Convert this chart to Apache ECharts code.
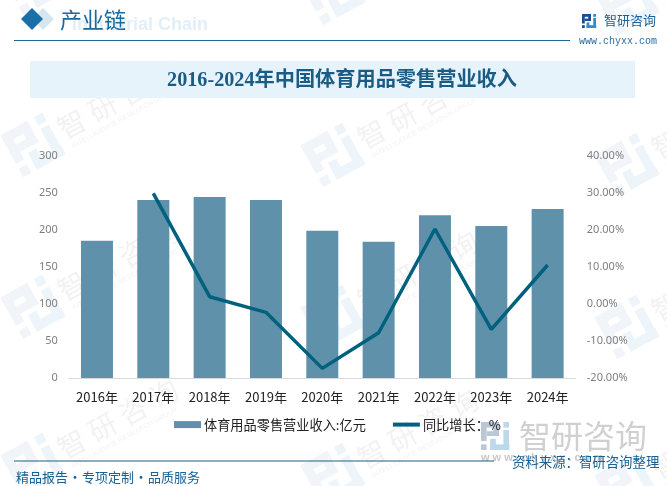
<!DOCTYPE html>
<html>
<head>
<meta charset="utf-8">
<title>2016-2024年中国体育用品零售营业收入</title>
<script src="https://cdn.jsdelivr.net/npm/echarts@6/dist/echarts.min.js"></script>
<style>
    html, body { margin: 0; padding: 0; background: #fff; }
    #myChart { width: 667px; height: 486px; }
</style>
</head>
<body>
<div id="myChart"></div>
<script>
const years = ["2016年", "2017年", "2018年", "2019年", "2020年", "2021年", "2022年", "2023年", "2024年"];
const revenue = [185.5, 240.5, 244.5, 240.5, 199, 184, 220, 205.5, 228.5];
const growth = [null, 29.9, 1.97, -2.25, -17.4, -7.76, 20.27, -6.85, 10.54];
const leftTicks = { min: 0, max: 300, interval: 50 };
const rightTicks = { min: -20, max: 40, interval: 10 };

const BLUE = "#1a6a9e";
const CJK = '"Noto Sans CJK SC"';

function label(text, x, y, size, fill, extra) {
    return {
        type: "text",
        x: x,
        y: y,
        silent: true,
        style: Object.assign({
            text: text,
            fill: fill,
            font: size + "px " + CJK,
            textAlign: "left",
            textVerticalAlign: "middle",
        }, extra || {}),
    };
}

function box(x, y, w, h, fill) {
    return { type: "rect", silent: true, shape: { x: x, y: y, width: w, height: h }, style: { fill: fill } };
}

// the company mark, drawn on a 14 unit square
function logoMark(x, y, s, dark, light) {
    const parts = [
        [0, 0, 9, 2.8, dark], [0, 0, 2.8, 9.5, dark], [6.2, 0, 2.8, 7, dark], [2.8, 4.6, 6.2, 2.4, dark], [0, 11.2, 2.8, 2.8, dark],
        [11.2, 0, 2.8, 2.8, light], [11.2, 4, 2.8, 10, light], [4.6, 11.2, 9.6, 2.8, light], [4.6, 8.4, 2.8, 5.6, light],
    ];
    return parts.map((p) => box(x + p[0] * s, y + p[1] * s, p[2] * s, p[3] * s, p[4]));
}

function watermark(x, y) {
    const chars = "智研咨询".split("").map((c, i) =>
        label(c, 44 + i * 35, 0, 28, "#f2f2f2", { textAlign: "center" })
    );
    return {
        type: "group",
        x: x,
        y: y,
        rotation: 0.5,
        silent: true,
        children: logoMark(-24, -24, 3.4, "#f1f4f8", "#eef5fa").concat(chars, [
            label("INTELLIGENCE RESEARCH GROUP", 34, 20, 7, "#f2f2f2", { font: '7px "Liberation Sans"' }),
        ]),
    };
}

const tiles = [];
[[33, 0], [333, 10], [627, 20]].forEach((col) => {
    [-17, 145, 307, 465].forEach((row) => tiles.push(watermark(col[0], row + col[1])));
});

const decorations = tiles.concat(
    [
        // header
        { type: "polygon", silent: true, shape: { points: [[43, 8], [54, 19], [43, 30], [32, 19]] }, style: { fill: "#d5e6f0" } },
        { type: "polygon", silent: true, shape: { points: [[32, 8], [43, 19], [32, 30], [21, 19]] }, style: { fill: "#1a6fa8" } },
        label("Industrial Chain", 72, 25, 18, "#e3eff7", { font: 'bold 18px "Liberation Sans"' }),
        label("产业链", 60, 20, 22, BLUE),
        { type: "line", silent: true, shape: { x1: 14, y1: 40.5, x2: 570, y2: 40.5 }, style: { stroke: BLUE, lineWidth: 1 } },
    ],
    logoMark(582, 14, 1, "#1c4f8f", "#2f8fce"),
    [
        label("智研咨询", 604, 20, 13, "#1c5f96"),
        label("www.chyxx.com", 579, 41, 10, "#2a6ca0", { font: '10px "Liberation Mono"' }),
        // title band
        box(30, 61, 605, 37, "#e6f3fb"),
        label("2016-2024年中国体育用品零售营业收入", 342, 81, 20, "#1b5c85", {
            font: 'bold 20.2px "Liberation Serif", ' + CJK,
            textAlign: "center",
        }),
    ],
    // footer
    logoMark(481, 422, 2, "#b9c7d6", "#bcd8ea"),
    [
        label("智研咨询", 519, 436, 32, "#d0d0d0"),
        label("w w w . c h y x x . c o m", 481, 458, 10, "#c8c8c8", { font: 'bold 11px "Liberation Sans"' }),
        { type: "line", silent: true, shape: { x1: 14, y1: 461, x2: 494, y2: 461 }, style: { stroke: "#1c5f80", lineWidth: 1 } },
        label("资料来源：智研咨询整理", 512, 462, 13.4, "#1a6090"),
        label("精品报告", 16, 477, 13, "#1a6090"),
        label("·", 75, 477, 13, "#1a6090", { textAlign: "center" }),
        label("专项定制", 82, 477, 13, "#1a6090"),
        label("·", 141, 477, 13, "#1a6090", { textAlign: "center" }),
        label("品质服务", 148, 477, 13, "#1a6090"),
    ]
);

var myChart = echarts.init(document.getElementById("myChart"), null, { renderer: "canvas" });
var option = {
    animation: false,
    backgroundColor: "#fff",
    textStyle: { fontFamily: CJK },
    graphic: { elements: decorations },
    legend: {
        left: 174,
        top: 418,
        padding: 0,
        itemWidth: 27,
        itemHeight: 7,
        itemGap: 25,
        textStyle: { fontSize: 13.2, color: "#222", fontFamily: CJK, padding: [0, 0, 0, -2] },
        data: [
            { name: "体育用品零售营业收入:亿元", icon: "rect" },
            { name: "同比增长：%", itemStyle: { opacity: 0 }, lineStyle: { width: 4 } },
        ],
    },
    grid: { left: 68.8, right: 91.2, top: 156, bottom: 108 },
    xAxis: {
        type: "category",
        data: years,
        axisLine: { lineStyle: { color: "#d9d9d9", width: 1 } },
        axisTick: { show: false },
        axisLabel: { color: "#222", fontSize: 13, margin: 13, interval: 0, fontFamily: CJK },
    },
    yAxis: [
        {
            type: "value",
            min: leftTicks.min,
            max: leftTicks.max,
            interval: leftTicks.interval,
            splitLine: { show: false },
            axisLine: { show: false },
            axisTick: { show: false },
            axisLabel: { color: "#7f7f7f", fontSize: 11, margin: 11, padding: [-2, 0, 0, 0], fontFamily: "Noto Sans" },
        },
        {
            type: "value",
            position: "right",
            min: rightTicks.min,
            max: rightTicks.max,
            interval: rightTicks.interval,
            splitLine: { show: false },
            axisLine: { show: false },
            axisTick: { show: false },
            axisLabel: {
                color: "#7f7f7f",
                fontSize: 11,
                margin: 11,
                padding: [-2, 0, 0, 0],
                fontFamily: "Noto Sans",
                formatter: (value) => value.toFixed(2) + "%",
            },
        },
    ],
    series: [
        {
            name: "体育用品零售营业收入:亿元",
            type: "bar",
            data: revenue,
            barWidth: 32,
            itemStyle: { color: "#5f92aa" },
        },
        {
            name: "同比增长：%",
            type: "line",
            yAxisIndex: 1,
            data: growth,
            symbol: "none",
            lineStyle: { color: "#00617f", width: 3.5 },
            itemStyle: { color: "#00617f" },
        },
    ],
};
myChart.setOption(option);
</script>
</body>
</html>
